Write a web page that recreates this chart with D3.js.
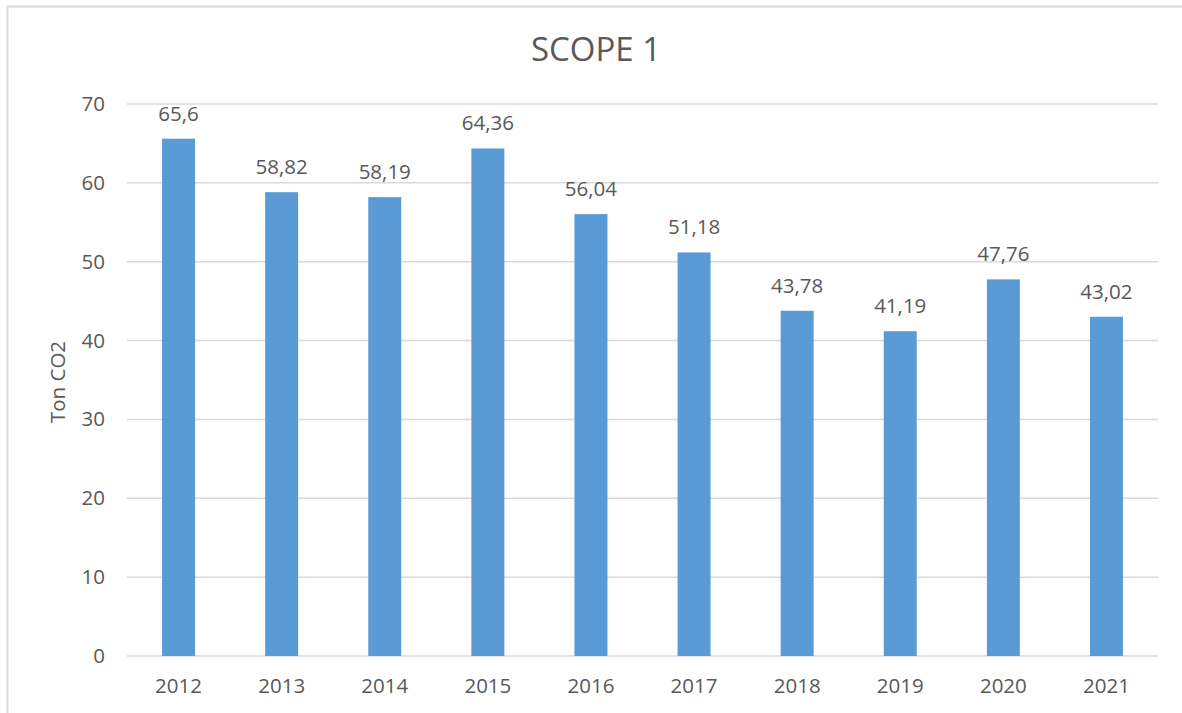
<!DOCTYPE html>
<html>
<head>
<meta charset="utf-8">
<script src="https://cdn.jsdelivr.net/npm/d3@7"></script>
<style>
  body { margin: 0; background: #fff; }
  text { font-family: "Open Sans", "Noto Sans", sans-serif; fill: #595959; }
</style>
</head>
<body>
<div id="chart"></div>
<script>
// Chart data
const years = ['2012', '2013', '2014', '2015', '2016', '2017', '2018', '2019', '2020', '2021']
const values = [65.6, 58.82, 58.19, 64.36, 56.04, 51.18, 43.78, 41.19, 47.76, 43.02]
const yTicks = [0, 10, 20, 30, 40, 50, 60, 70]

const width = 1182
const height = 713
const margin = { top: 104, right: 24, bottom: 57, left: 127 }
const labelSize = '20.5px'

const svg = d3.select('#chart').append('svg')
  .attr('width', width)
  .attr('height', height)

// Outer chart border
svg.append('path')
  .attr('d', `M7.5,${height} V6.5 H${width}`)
  .attr('fill', 'none')
  .attr('stroke', '#d9d9d9')
  .attr('stroke-width', 2)

let x = d3.scaleBand()
  .domain(years)
  .range([margin.left, width - margin.right])
  .paddingInner(0.68)
  .paddingOuter(0.34)

let y = d3.scaleLinear()
  .domain([0, 70])
  .range([height - margin.bottom, margin.top])

// Gridlines
svg.append('g')
  .selectAll('line')
  .data(yTicks)
  .join('line')
  .attr('x1', margin.left)
  .attr('x2', width - margin.right)
  .attr('y1', d => y(d))
  .attr('y2', d => y(d))
  .attr('stroke', '#d9d9d9')
  .attr('stroke-width', 1.5)

// Y axis labels
let yAxis = svg.append('g')
  .attr('transform', `translate(${margin.left - 22},0)`)
  .call(d3.axisLeft(y).tickValues(yTicks).tickSize(0).tickPadding(0))
yAxis.select('.domain').remove()
yAxis.selectAll('text')
  .style('font-size', labelSize)
  .attr('font-family', null)

// X axis labels
let xAxis = svg.append('g')
  .attr('transform', `translate(0,${height - margin.bottom})`)
  .call(d3.axisBottom(x).tickSize(0).tickPadding(22))
xAxis.select('.domain').remove()
xAxis.selectAll('text')
  .style('font-size', labelSize)
  .attr('font-family', null)

// Bars
svg.append('g')
  .selectAll('rect')
  .data(values)
  .join('rect')
  .attr('x', (d, i) => x(years[i]))
  .attr('y', d => y(d))
  .attr('width', x.bandwidth())
  .attr('height', d => y(0) - y(d))
  .attr('fill', '#5b9bd5')

// Value labels
svg.append('g')
  .selectAll('text')
  .data(values)
  .join('text')
  .attr('x', (d, i) => x(years[i]) + x.bandwidth() / 2)
  .attr('y', d => y(d) - 18)
  .attr('text-anchor', 'middle')
  .style('font-size', labelSize)
  .text(d => String(d).replace('.', ','))

// Title
svg.append('text')
  .attr('x', 596)
  .attr('y', 61)
  .attr('text-anchor', 'middle')
  .style('font-size', '33px')
  .text('SCOPE 1')

// Y axis title
svg.append('text')
  .attr('transform', 'translate(65,382) rotate(-90)')
  .attr('text-anchor', 'middle')
  .style('font-size', labelSize)
  .text('Ton CO2')
</script>
</body>
</html>
